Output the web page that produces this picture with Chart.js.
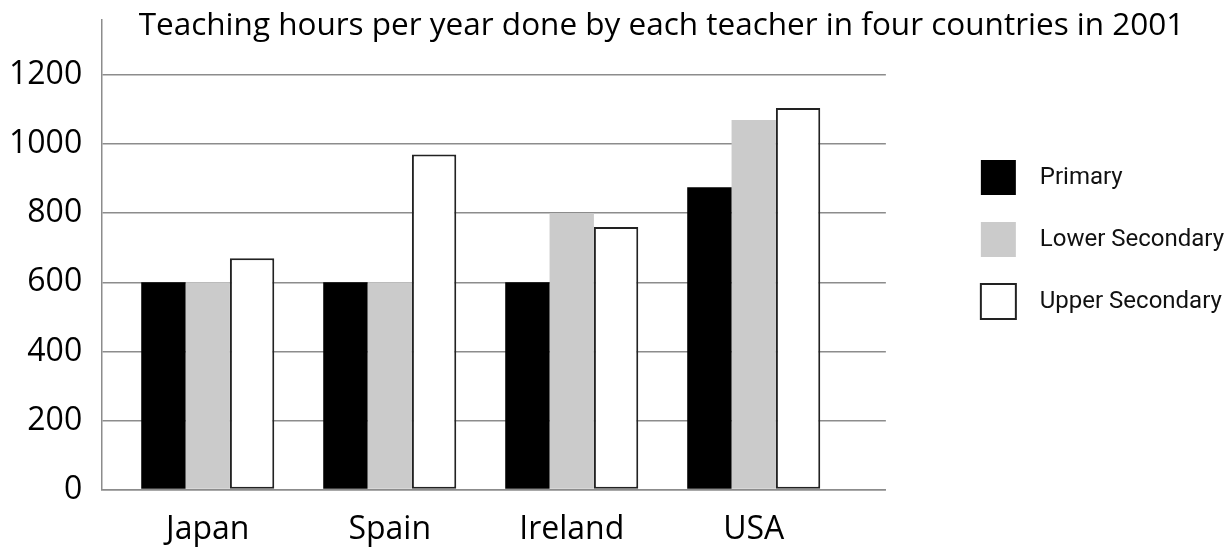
<!DOCTYPE html>
<html>
<head>
<meta charset="utf-8">
<script src="https://cdn.jsdelivr.net/npm/chart.js@4"></script>
<style>
    html, body { margin: 0; padding: 0; background: #fff; }
    #wrap { width: 1232px; height: 549px; }
</style>
</head>
<body>
<div id="wrap"><canvas id="myChart"></canvas></div>
<script>
var countries = ["Japan", "Spain", "Ireland", "USA"];
var primary = [600, 600, 600, 875];
var lowerSecondary = [600, 600, 800, 1070];
var upperSecondary = [670, 970, 760, 1105];
var yTicks = [0, 200, 400, 600, 800, 1000, 1200];

// bars sit on a linear x so the groups can be placed like the original
function points(values) {
    return values.map(function (v, i) { return { x: i, y: v }; });
}

// moves title and legend to where they are in the picture
var nudge = {
    id: 'nudge',
    afterLayout: function (chart) {
        var t = chart.titleBlock;
        t.left += 74; t.right += 74;
        var l = chart.legend;
        l.left += 68; l.right += 68;
        l.top -= 35; l.bottom -= 35;
    }
};

var ctx = document.getElementById("myChart").getContext('2d');

var myChart = new Chart(ctx, {
    type: 'bar',
    data: {
        datasets: [{
            label: 'Primary',
            data: points(primary),
            backgroundColor: '#000000',
            borderWidth: 0
        }, {
            label: 'Lower Secondary',
            data: points(lowerSecondary),
            backgroundColor: '#cbcbcb',
            borderWidth: 0
        }, {
            label: 'Upper Secondary',
            data: points(upperSecondary),
            backgroundColor: '#ffffff',
            borderColor: '#222222',
            borderWidth: 2,
            borderSkipped: false
        }]
    },
    plugins: [nudge],
    options: {
        responsive: true,
        maintainAspectRatio: false,
        animation: false,
        categoryPercentage: 0.731,
        barPercentage: 1,
        layout: { padding: { left: 9, right: 66, top: 0, bottom: 0 } },
        plugins: {
            title: {
                display: true,
                text: 'Teaching hours per year done by each teacher in four countries in 2001',
                color: '#000',
                font: { family: 'Open Sans', size: 31.5, weight: 'normal' },
                padding: { top: 7, bottom: -25 }
            },
            legend: {
                position: 'right',
                labels: {
                    color: '#111',
                    font: { family: 'Roboto', size: 24 },
                    boxWidth: 35,
                    boxHeight: 35,
                    padding: 27,
                    generateLabels: function (chart) {
                        var items = Chart.defaults.plugins.legend.labels.generateLabels(chart);
                        items.forEach(function (it) { it.text = '  ' + it.text; });
                        return items;
                    }
                }
            },
            tooltip: { enabled: false }
        },
        scales: {
            x: {
                type: 'linear',
                offset: false,
                min: -0.58,
                max: 3.726,
                afterBuildTicks: function (scale) {
                    scale.ticks = countries.map(function (c, i) { return { value: i }; });
                },
                ticks: {
                    autoSkip: false,
                    maxRotation: 0,
                    color: '#000',
                    padding: 0,
                    font: { family: 'Open Sans', size: 32 },
                    callback: function (v) { return countries[v]; }
                },
                grid: { drawOnChartArea: false, drawTicks: true, tickLength: 21, tickColor: 'rgba(0,0,0,0)' },
                border: { color: '#8c8c8c', width: 1.5 }
            },
            y: {
                min: 0,
                max: 1360,
                afterBuildTicks: function (scale) {
                    scale.ticks = yTicks.concat([scale.max]).map(function (v) { return { value: v }; });
                },
                ticks: {
                    color: '#000',
                    padding: 0,
                    font: { family: 'Open Sans', size: 32 },
                    callback: function (v) { return yTicks.indexOf(v) >= 0 ? String(v) : null; }
                },
                grid: {
                    color: function (c) {
                        return c.tick && yTicks.indexOf(c.tick.value) < 0 ? 'rgba(0,0,0,0)' : '#8c8c8c';
                    },
                    lineWidth: 1.5,
                    drawTicks: true,
                    tickLength: 20,
                    tickColor: 'rgba(0,0,0,0)'
                },
                border: { color: '#8c8c8c', width: 1.5 }
            }
        }
    }
});
</script>
</body>
</html>
